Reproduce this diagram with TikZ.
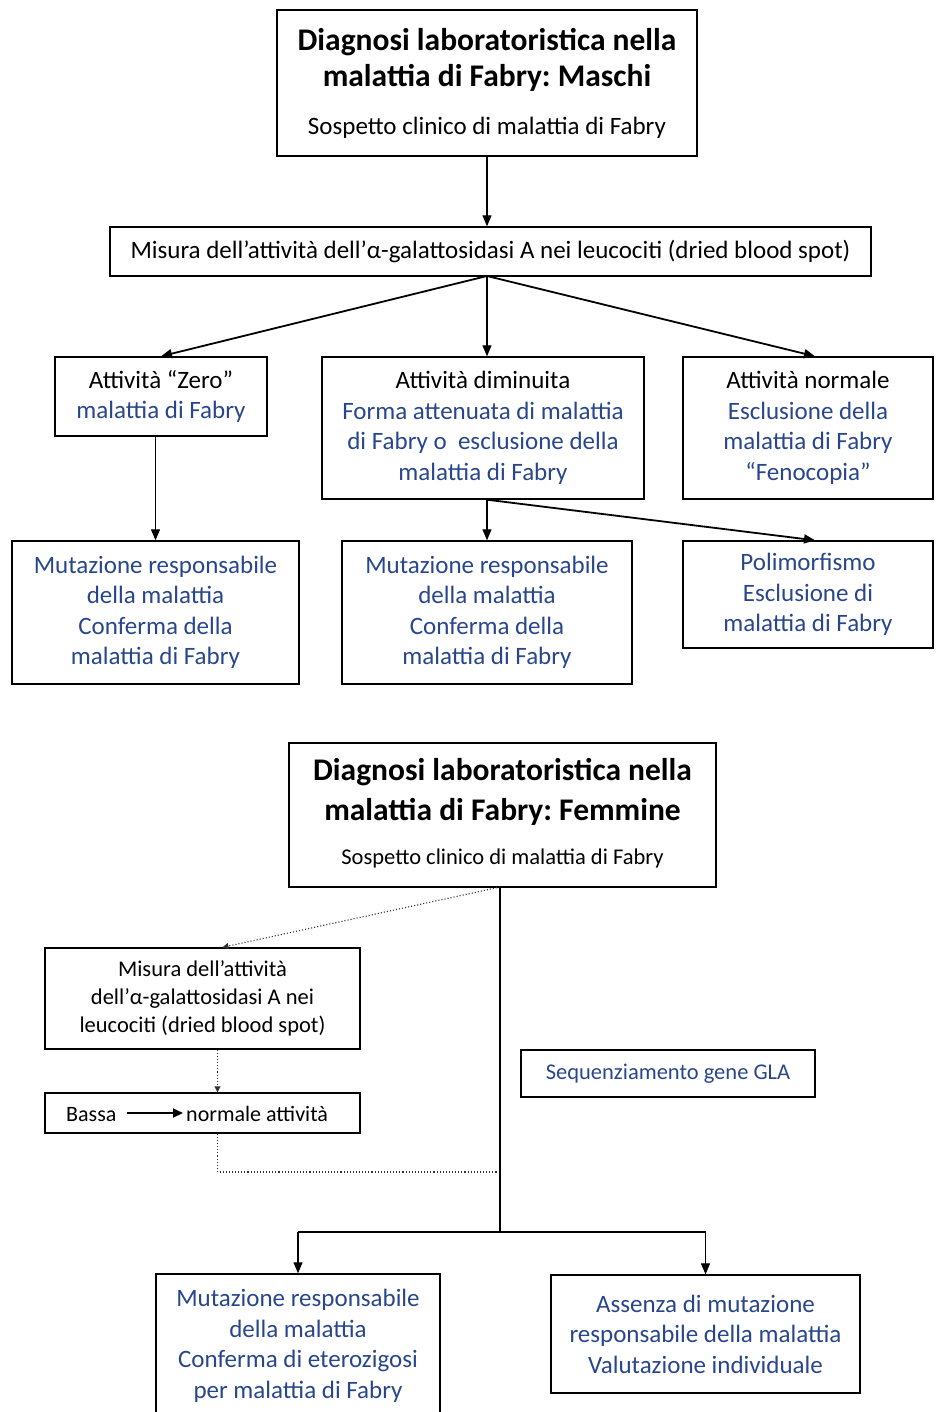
\documentclass[tikz,border=0pt]{standalone}
\usepackage{fontspec}
\setmainfont{Carlito}
\frenchspacing
\usetikzlibrary{arrows.meta,calc}
\definecolor{txtblue}{RGB}{40,70,140}
\begin{document}
\begin{tikzpicture}[x=1pt,y=-1pt,
  box/.style={draw=black, line width=1.4pt, align=center, inner sep=0pt, text=black},
  txt/.style={align=center, inner sep=0pt, font=\fontsize{25}{30.5}\selectfont},
  arr/.style={-{Triangle[length=11pt,width=9pt]}, line width=1.2pt},
  darr/.style={-{Triangle[length=11pt,width=9pt]}, line width=1.8pt},
  ln/.style={line width=1.3pt},
  dot/.style={dotted, line width=1.1pt, draw=black!80},
  dotarr/.style={dot, -{Triangle[length=6pt,width=6pt]}},
]
\useasboundingbox (0,0) rectangle (935,1412);

% ---------- Maschi ----------
\node[box, minimum width=420pt, minimum height=146pt] (t1) at (487,83) {};
\node[txt, font=\bfseries\fontsize{31.5}{36}\selectfont] (t1a) at (487,60) {Diagnosi laboratoristica nella\\malattia di Fabry: Maschi};
\node[txt, font=\fontsize{25}{28}\selectfont] (t1b) at (487,128) {Sospetto clinico di malattia di Fabry};

\node[box, txt, minimum width=761pt, minimum height=49pt] (m1) at (490.5,251.5)
  {Misura dell’attività dell’α-galattosidasi A nei leucociti (dried blood spot)};

\node[box, txt, minimum width=212pt, minimum height=79pt] (z) at (161,396.5)
  {Attività “Zero”\\\textcolor{txtblue}{malattia di Fabry}};
\node[box, txt, minimum width=322pt, minimum height=142pt] (d) at (483,428)
  {Attività diminuita\\\textcolor{txtblue}{Forma attenuata di malattia}\\\textcolor{txtblue}{di Fabry o\ \ esclusione della}\\\textcolor{txtblue}{malattia di Fabry}};
\node[box, txt, minimum width=250pt, minimum height=142pt] (n) at (808,428)
  {Attività normale\\\textcolor{txtblue}{Esclusione della}\\\textcolor{txtblue}{malattia di Fabry}\\\textcolor{txtblue}{“Fenocopia”}};

\node[box, txt, text=txtblue, minimum width=287pt, minimum height=143pt] (mu1) at (155.5,612.5)
  {Mutazione responsabile\\della malattia\\Conferma della\\malattia di Fabry};
\node[box, txt, text=txtblue, minimum width=290pt, minimum height=143pt] (mu2) at (487,612.5)
  {Mutazione responsabile\\della malattia\\Conferma della\\malattia di Fabry};
\node[box, txt, text=txtblue, minimum width=250pt, minimum height=107pt] (p) at (808,594.5)
  {Polimorfismo\\Esclusione di\\malattia di Fabry};

\draw[arr] (t1.south) -- (t1.south |- m1.north);
\coordinate (m1s) at (487,276);
\draw[darr] (m1s) -- (z.north);
\draw[arr] (m1s) -- (m1s |- d.north);
\draw[darr] (m1s) -- ($(n.north)+(7,0)$);
\draw[arr] (mu1.north |- z.south) -- (mu1.north);
\coordinate (ds) at (mu2.north |- d.south);
\draw[arr] (ds) -- (mu2.north);
\draw[darr] (ds) -- ($(p.north)+(7,0)$);

% ---------- Femmine ----------
\node[box, minimum width=427pt, minimum height=144pt] (t2) at (502.5,815) {};
\node[txt, font=\bfseries\fontsize{31.5}{40}\selectfont] (t2a) at (502.5,792) {Diagnosi laboratoristica nella\\malattia di Fabry: Femmine};
\node[txt, font=\fontsize{22.5}{26}\selectfont] (t2b) at (502.5,858) {Sospetto clinico di malattia di Fabry};

\node[box, txt, font=\fontsize{22.5}{28}\selectfont, minimum width=315pt, minimum height=101pt] (m2) at (202.5,998.5)
  {Misura dell’attività\\dell’α-galattosidasi A nei\\leucociti (dried blood spot)};
\node[box, minimum width=315pt, minimum height=40pt] (b) at (202.5,1113) {};
\node[txt, font=\fontsize{22}{24}\selectfont, anchor=base west] (bl) at (66,1121) {Bassa};
\node[txt, font=\fontsize{22}{24}\selectfont, anchor=base west] (br) at (186,1121) {normale attività};
\draw[-{Triangle[length=10pt,width=9pt]}, line width=2pt] (127,1113) -- (183,1113);

\node[box, txt, text=txtblue, font=\fontsize{22.5}{26}\selectfont, minimum width=294pt, minimum height=47pt] (s) at (668,1073.5)
  {Sequenziamento gene GLA};

\node[box, txt, text=txtblue, minimum width=284pt, minimum height=144pt] (mu3) at (298,1346)
  {Mutazione responsabile\\della malattia\\Conferma di eterozigosi\\per malattia di Fabry};
\node[box, txt, text=txtblue, minimum width=309pt, minimum height=118pt] (a) at (705.5,1334)
  {Assenza di mutazione\\responsabile della malattia\\Valutazione individuale};

\coordinate (t2s) at (500,887);
\coordinate (jn) at (500,1172);
\coordinate (split) at (500,1232);
\draw[dotarr] (t2s) -- ($(m2.north)+(20,0)$);
\draw[dotarr] ($(m2.south)+(15,0)$) -- ($(b.north)+(15,0)$);
\draw[dot] ($(b.south)+(15,0)$) |- (jn);
\draw[ln] (t2s) -- (split);
\draw[ln] (mu3.north |- split) -- (a.north |- split);
\draw[arr] (mu3.north |- split) -- (mu3.north);
\draw[arr] (a.north |- split) -- (a.north);
\end{tikzpicture}
\end{document}
